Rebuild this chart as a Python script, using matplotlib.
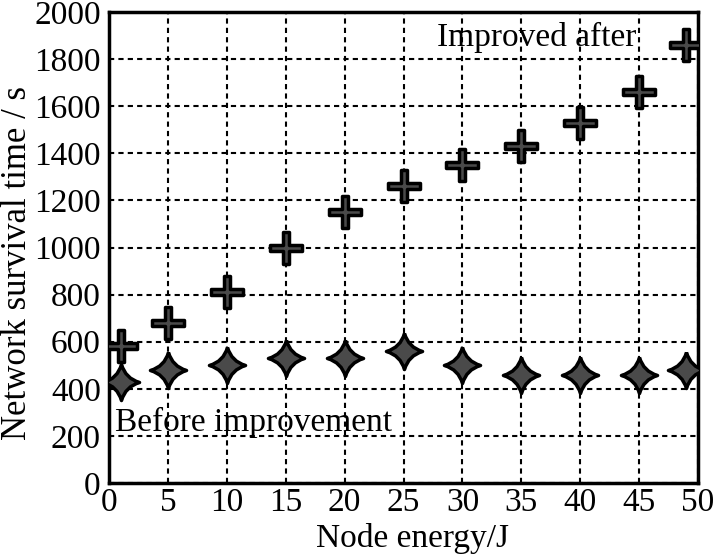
import matplotlib
matplotlib.use('Agg')
import matplotlib.pyplot as plt
from matplotlib.path import Path
import numpy as np

plt.rcParams['font.family'] = 'Liberation Serif'

energy = [1, 5, 10, 15, 20, 25, 30, 35, 40, 45, 49]
improved = [580, 680, 810, 1000, 1150, 1260, 1350, 1430, 1530, 1660, 1860]
before = [430, 480, 500, 530, 530, 560, 500, 460, 460, 460, 480]

# concave 4-point star marker
t = 0.22
verts = [(0, 1), (t, t), (1, 0), (t, -t), (0, -1), (-t, -t), (-1, 0), (-t, t), (0, 1)]
codes = [Path.MOVETO] + [Path.CURVE3] * 8
star4 = Path(verts, codes)

# slim plus marker
w = 0.2
pv = [(-w, 1), (w, 1), (w, w), (1, w), (1, -w), (w, -w), (w, -1), (-w, -1),
      (-w, -w), (-1, -w), (-1, w), (-w, w), (-w, 1)]
plus = Path(pv, [Path.MOVETO] + [Path.LINETO] * 11 + [Path.CLOSEPOLY])

fig = plt.figure(figsize=(7.13, 5.6), dpi=100)
ax = fig.add_axes([0.153, 0.1375, 0.826, 0.841])

ax.plot(energy, improved, linestyle='none', marker=plus, markersize=23,
        markerfacecolor='#4a4a4a', markeredgecolor='black', markeredgewidth=2.5, zorder=3)
ax.plot(energy, before, linestyle='none', marker=star4, markersize=26,
        markerfacecolor='#4a4a4a', markeredgecolor='black', markeredgewidth=2.5, zorder=3)

ax.set_xlim(0, 50)
ax.set_ylim(0, 2000)
ax.set_xticks(np.arange(0, 51, 5))
ax.set_yticks(np.arange(0, 2001, 200))
ax.grid(True, color='black', linestyle=(0, (2.5, 2)), linewidth=1.5)
ax.set_axisbelow(True)
ax.tick_params(axis='both', length=0, labelsize=24)
ax.tick_params(axis='x', pad=3)
ax.tick_params(axis='y', pad=6)
for s in ax.spines.values():
    s.set_linewidth(2.5)

ax.set_xlabel('Node energy/J', fontsize=24)
ax.set_ylabel('Network survival time / s', fontsize=25)
ax.xaxis.set_label_coords(0.516, -0.085)
ax.yaxis.set_label_coords(-0.128, 0.467)

ax.text(27.8, 1890, 'Improved after', fontsize=24, va='center', ha='left')
ax.text(0.5, 255, 'Before improvement', fontsize=24, va='center', ha='left')

fig.savefig('out.png', dpi=100, facecolor='white')
